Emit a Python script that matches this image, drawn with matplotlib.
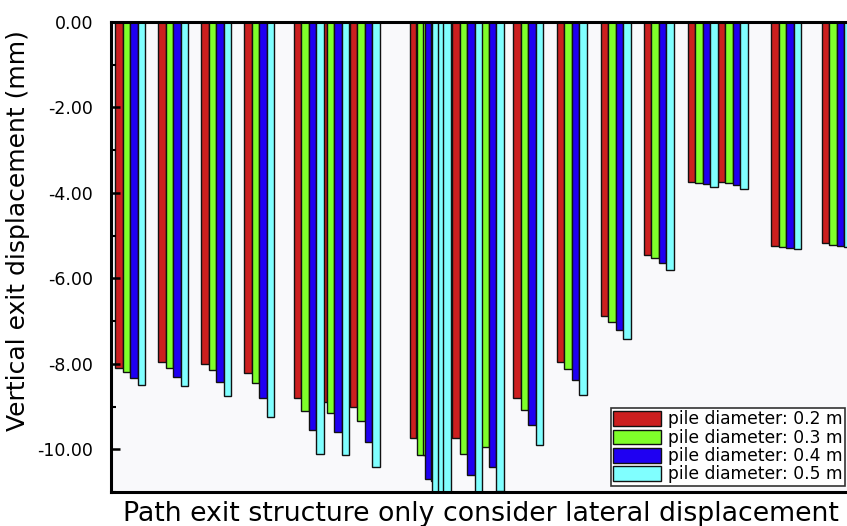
import matplotlib
matplotlib.use("Agg")
import matplotlib.pyplot as plt
import numpy as np
from matplotlib.ticker import FormatStrFormatter, MultipleLocator

# Group positions along the (unlabelled) path axis
group_pos = [1.00, 1.99, 2.98, 3.97, 5.11, 5.70, 6.40, 7.78, 7.91, 8.03,
             8.75, 9.25, 10.15, 11.16, 12.17, 13.16, 14.17, 14.86, 16.08, 17.25]

# Vertical exit displacement (mm) for each pile diameter
d02 = [-8.10, -7.96, -8.00, -8.22, -8.81, -8.90, -9.00, -9.74, -9.74, -9.80,
       -9.74, -9.70, -8.81, -7.96, -6.89, -5.46, -3.74, -3.74, -5.24, -5.18]
d03 = [-8.20, -8.10, -8.15, -8.46, -9.10, -9.14, -9.34, -10.14, -10.14, -10.20,
       -10.10, -9.95, -9.09, -8.13, -7.02, -5.53, -3.77, -3.77, -5.27, -5.22]
d04 = [-8.33, -8.30, -8.43, -8.81, -9.54, -9.60, -9.83, -10.70, -10.75, -10.80,
       -10.60, -10.42, -9.44, -8.38, -7.21, -5.65, -3.80, -3.82, -5.28, -5.24]
d05 = [-8.50, -8.52, -8.76, -9.25, -10.10, -10.14, -10.42, -11.30, -11.40, -11.50,
       -11.30, -10.98, -9.89, -8.72, -7.43, -5.81, -3.86, -3.90, -5.32, -5.26]

series = [d02, d03, d04, d05]
labels = ["pile diameter: 0.2 m", "pile diameter: 0.3 m",
          "pile diameter: 0.4 m", "pile diameter: 0.5 m"]
colors = ["#CC1F1F", "#7FFF2A", "#1F00F2", "#80FFFF"]

fig = plt.figure(figsize=(8.47, 5.26), dpi=100)
ax = fig.add_axes([0.13105, 0.06464, 0.87603, 0.89354])
ax.set_facecolor("#F9F9FB")

width = 0.1724
x = np.array(group_pos)
for i, (vals, lab, col) in enumerate(zip(series, labels, colors)):
    ax.bar(x + (i - 1.5) * width, vals, width=width, color=col,
           edgecolor="#111111", linewidth=1.0, label=lab)

ax.set_xlim(0.5632, 17.62)
ax.set_ylim(-11, 0)
ax.set_xticks([])
ax.yaxis.set_major_locator(MultipleLocator(2))
ax.yaxis.set_minor_locator(MultipleLocator(1))
ax.yaxis.set_major_formatter(FormatStrFormatter("%.2f"))
ax.tick_params(axis="y", which="major", direction="in", length=6.5, width=1.8,
               labelsize=12.5, pad=13)
ax.tick_params(axis="y", which="minor", direction="in", length=3.6, width=1.5)
for sp in ax.spines.values():
    sp.set_linewidth(2.2)

ax.set_ylabel("Vertical exit displacement (mm)", fontsize=18)
ax.yaxis.set_label_coords(-0.109, 0.557)
ax.set_xlabel("Path exit structure only consider lateral displacement", fontsize=19.3)
ax.xaxis.label.set_va("baseline")
ax.xaxis.set_label_coords(0.4985, -0.0617)

leg = fig.legend(loc="lower right", bbox_to_anchor=(845 / 847, 40 / 526),
                 bbox_transform=fig.transFigure, fontsize=12.3,
                 handlelength=2.8, handleheight=0.95, handletextpad=0.4,
                 labelspacing=0.02, borderpad=0.15, borderaxespad=0,
                 fancybox=False, framealpha=1)
leg.get_frame().set_edgecolor("#333333")
leg.get_frame().set_linewidth(1.2)

fig.savefig("out.png", dpi=100)
